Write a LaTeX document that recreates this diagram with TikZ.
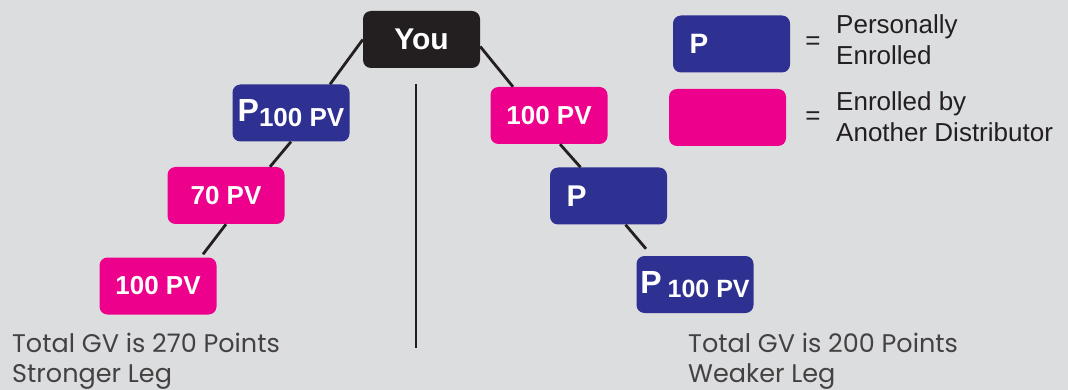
\documentclass[tikz,border=0pt]{standalone}
\usepackage{fontspec}
\setmainfont{Liberation Sans}
\newfontfamily\gothic{Poppins}
\usetikzlibrary{positioning}
\definecolor{pnavy}{RGB}{46,49,146}
\definecolor{pmag}{RGB}{236,0,140}
\definecolor{pblack}{RGB}{35,31,32}
\definecolor{pbg}{RGB}{220,221,223}

\begin{document}
\begin{tikzpicture}[x=1pt,y=-1pt,
    pvbox/.style={rectangle,rounded corners=8pt,minimum width=117pt,
        minimum height=57pt,inner sep=0pt,text=white,
        font=\bfseries\fontsize{26}{30}\selectfont},
    pleft/.style={text width=84pt,align=left,inner xsep=16pt}]
\fill[pbg] (0,0) rectangle (1068,390);
\useasboundingbox (0,0) rectangle (1068,390);
\begin{scope}[every node/.style={pvbox,fill=pblack}]
    \node (you) at (421.5,39.5) {\fontsize{30}{30}\selectfont You};
\end{scope}
\begin{scope}[every node/.style={pvbox,fill=pnavy}]
    \node (pa) at (291,113) {{\fontsize{32}{32}\selectfont P}\raisebox{-5pt}{100 PV}};
    \node[pleft] (pb) at (608.5,196) {{\fontsize{30}{30}\selectfont P}};
    \node (pc) at (695,284.5) {{\fontsize{32}{32}\selectfont P}\hspace{6pt}\raisebox{-4pt}{\fontsize{25}{30}\selectfont 100 PV}};
    \node[pleft,inner xsep=15pt] (keyp) at (731.5,44) {{\fontsize{28}{30}\selectfont P}};
\end{scope}
\begin{scope}[every node/.style={pvbox,fill=pmag}]
    \node (ma) at (549,115.5) {100 PV};
    \node (mb) at (226,195.5) {70 PV};
    \node (mc) at (158,286) {100 PV};
    \node (keym) at (727.5,117.5) {};
\end{scope}
% legend
\begin{scope}[every node/.style={inner sep=0pt,text=pblack,
        font=\fontsize{26}{31}\selectfont}]
    \node (eqp) at (813,43) {=};
    \node (eqm) at (813,118) {=};
    \node[anchor=north west,align=left] (txtp) at (836,14) {Personally\\Enrolled};
    \node[anchor=north west,align=left] (txtm) at (836,91) {Enrolled by\\Another Distributor};
\end{scope}
% leg totals
\begin{scope}[every node/.style={inner sep=0pt,text=pblack!85,anchor=north west,
        align=left,font=\gothic\fontsize{25.5}{30}\selectfont}]
    \node (totl) at (12,333) {Total GV is 270 Points\\Stronger Leg};
    \node (totr) at (688,333) {Total GV is 200 Points\\Weaker Leg};
\end{scope}
\coordinate (divtop) at (416,84);
\coordinate (divbot) at (416,348);
\begin{scope}[every edge/.style={draw=pblack,line width=2.8pt}]
    \path (you.west) edge ([xshift=39pt]pa.north);
    \path ([yshift=-7pt]you.east) edge ([xshift=-36pt]ma.north);
    \path (pa.south) edge ([xshift=44pt]mb.north);
    \path (mb.south) edge ([xshift=45pt,yshift=3pt]mc.north);
    \path ([xshift=11pt]ma.south) edge ([xshift=-28pt]pb.north);
    \path ([xshift=17pt]pb.south) edge ([xshift=-49pt,yshift=7pt]pc.north);
    \path (divtop) edge (divbot);
\end{scope}
\end{tikzpicture}
\end{document}
